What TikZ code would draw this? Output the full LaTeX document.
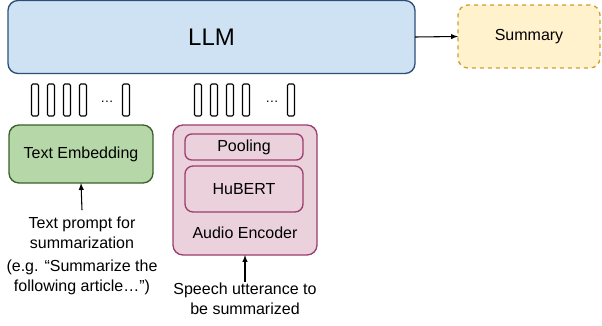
\documentclass[tikz,border=0pt]{standalone}
\usepackage{fontspec}
\setmainfont{Liberation Sans}
\usetikzlibrary{positioning}
\definecolor{llmfill}{HTML}{CFE2F3}
\definecolor{llmline}{HTML}{2B4F76}
\definecolor{sumfill}{HTML}{FFF2CC}
\definecolor{sumline}{HTML}{CCA030}
\definecolor{embfill}{HTML}{B6D7A8}
\definecolor{embline}{HTML}{3A5F27}
\definecolor{encfill}{HTML}{EAD1DC}
\definecolor{encline}{HTML}{9C3D6E}
\tikzset{
  box/.style={draw, rounded corners=7.5pt, line width=1pt, inner sep=0pt, outer sep=0pt, font=\fontsize{12}{14.5}\selectfont},
  token/.style={draw, rounded corners=1pt, line width=0.8pt, minimum width=5.25pt, minimum height=24pt, inner sep=0pt},
  txt/.style={align=center, font=\fontsize{12}{15}\selectfont, inner sep=1pt}
}
\begin{document}
\begin{tikzpicture}[x=0.75pt,y=-0.75pt]
        \useasboundingbox (0,0) rectangle (602,325);
        %llm e riassunto
        \node[box, fill=llmfill, draw=llmline, minimum width=305.25pt, minimum height=54.75pt, font=\fontsize{18}{20}\selectfont] (llm) at (211.5,37) {LLM};
        \node[box, fill=sumfill, draw=sumline, dashed, minimum width=106.5pt, minimum height=47.25pt] (summary) at (529,36.5) {Summary};
        \draw[-latex, line width=0.8pt] (llm.east) -- (summary.west);
        %token
        \foreach \x [count=\i] in {35,51,67,83,126}
            \node[token] (ta\i) at (\x,100) {};
        \node (dotsa) at (107,102) {\fontsize{10}{12}\selectfont\dots};
        \foreach \x [count=\i] in {198,214,230,246,291}
            \node[token] (tb\i) at (\x,100) {};
        \node (dotsb) at (272,102) {\fontsize{10}{12}\selectfont\dots};
        %text embedding
        \node[box, fill=embfill, draw=embline, minimum width=108pt, minimum height=43.5pt] (textemb) at (81,154) {Text Embedding};
        \node[txt] (prompt) at (82,233) {Text prompt for\\summarization};
        \node[txt] (example) at (82,277.5) {(e.g. “Summarize the\\following article…”)};
        \draw[-latex, line width=0.8pt] ([yshift=4pt]prompt.north) -- (textemb.south);
        %audio encoder
        \node[box, fill=encfill, draw=encline, minimum width=108pt, minimum height=97.5pt] (audioenc) at (245,190) {};
        \node[box, fill=encfill, draw=encline, rounded corners=5pt, minimum width=88.5pt, minimum height=19.5pt] (pooling) at (244,147) {Pooling};
        \node[box, fill=encfill, draw=encline, rounded corners=6pt, minimum width=88.5pt, minimum height=34.5pt] (hubert) at (244,189) {HuBERT};
        \node[txt] (enclabel) at (245,233) {Audio Encoder};
        \node[txt] (speech) at (245,299) {Speech utterance to\\be summarized};
        \draw[-latex, line width=0.8pt] (speech.north) -- (audioenc.south);
\end{tikzpicture}
\end{document}
